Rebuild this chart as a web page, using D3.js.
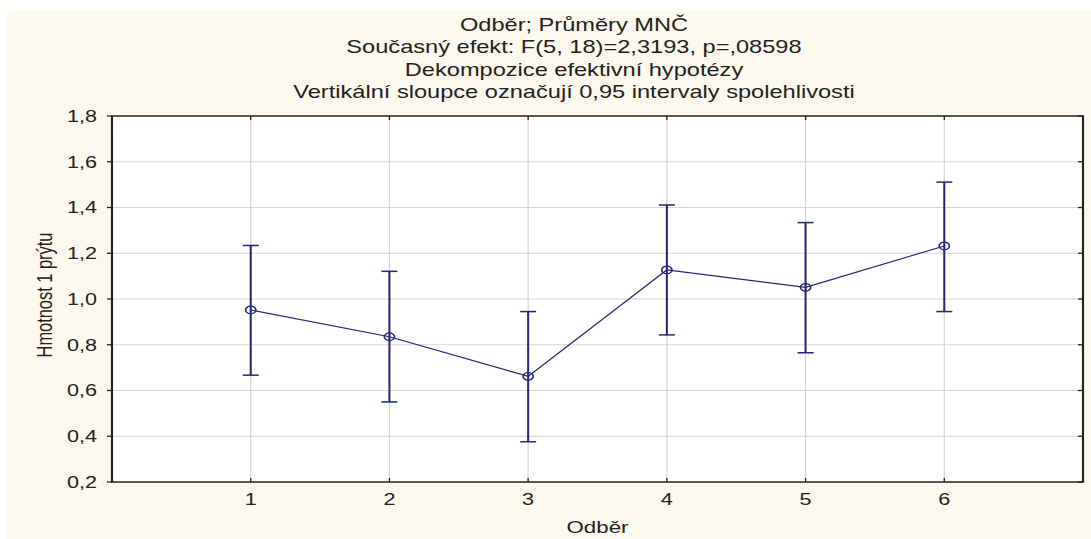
<!DOCTYPE html>
<html>
<head>
<meta charset="utf-8">
<script src="https://cdn.jsdelivr.net/npm/d3@7"></script>
<style>
  body { margin: 0; background: #fff; }
  svg { display: block; }
  text { font-family: "Liberation Sans", Arial, sans-serif; fill: #222; }
</style>
</head>
<body>
<div id="chart"></div>
<script>
// data
var categories = [1, 2, 3, 4, 5, 6]
var means = [0.952, 0.835, 0.662, 1.127, 1.051, 1.232]
var lower = [0.667, 0.550, 0.376, 0.843, 0.765, 0.945]
var upper = [1.234, 1.121, 0.945, 1.411, 1.334, 1.511]
var yTicks = [0.2, 0.4, 0.6, 0.8, 1.0, 1.2, 1.4, 1.6, 1.8]
var titleLines = [
  "Odběr; Průměry MNČ",
  "Současný efekt: F(5, 18)=2,3193, p=,08598",
  "Dekompozice efektivní hypotézy",
  "Vertikální sloupce označují 0,95 intervaly spolehlivosti"
]
var xTitle = "Odběr"
var yTitle = "Hmotnost 1 prýtu"

// the whole picture is stretched sideways, so draw narrow and scale
var SX = 1.35
var dims = { width: 1091, height: 539 }
var u = function (px) { return px / SX }

var plot = { left: u(112), right: u(1083), top: 116, bottom: 482 }

var x = d3.scaleLinear().domain([0, 7]).range([plot.left, plot.right])
var y = d3.scaleLinear().domain([0.2, 1.8]).range([plot.bottom, plot.top])

var comma = function (v) { return d3.format(".1f")(v).replace(".", ",") }

var svg = d3.select("#chart").append("svg")
  .attr("width", dims.width)
  .attr("height", dims.height)

var g = svg.append("g").attr("transform", `scale(${SX},1)`)

g.append("rect")
  .attr("x", u(7)).attr("y", 11)
  .attr("width", u(dims.width - 7)).attr("height", dims.height - 11)
  .attr("fill", "#fcf8ed")

g.append("rect")
  .attr("x", plot.left).attr("y", plot.top)
  .attr("width", plot.right - plot.left).attr("height", plot.bottom - plot.top)
  .attr("fill", "#fff")

// grid
g.append("g")
  .selectAll("line")
  .data(yTicks.slice(1, -1))
  .join("line")
  .attr("x1", plot.left).attr("x2", plot.right)
  .attr("y1", d => y(d)).attr("y2", d => y(d))
  .attr("stroke", "#d6d6d6").attr("stroke-width", 1.2)

g.append("g")
  .selectAll("line")
  .data(categories)
  .join("line")
  .attr("x1", d => x(d)).attr("x2", d => x(d))
  .attr("y1", plot.top).attr("y2", plot.bottom)
  .attr("stroke", "#d6d6d6").attr("stroke-width", 1.2 / SX)

// ticks: left outward, others inward
var tk = g.append("g").attr("stroke", "#222").attr("stroke-width", 1.3)
tk.selectAll(".tl").data(yTicks).join("line")
  .attr("x1", plot.left - u(5)).attr("x2", plot.left)
  .attr("y1", d => y(d)).attr("y2", d => y(d))
tk.selectAll(".tr").data(yTicks).join("line")
  .attr("x1", plot.right - u(5)).attr("x2", plot.right)
  .attr("y1", d => y(d)).attr("y2", d => y(d))
tk.selectAll(".tb").data(categories).join("line")
  .attr("x1", d => x(d)).attr("x2", d => x(d))
  .attr("y1", plot.bottom - 4).attr("y2", plot.bottom)
  .attr("stroke-width", 1.3 / SX)
tk.selectAll(".tt").data(categories).join("line")
  .attr("x1", d => x(d)).attr("x2", d => x(d))
  .attr("y1", plot.top).attr("y2", plot.top + 4)
  .attr("stroke-width", 1.3 / SX)

// frame
g.append("path")
  .attr("d", `M${plot.left},${plot.top}H${plot.right}V${plot.bottom}H${plot.left}Z`)
  .attr("fill", "none").attr("stroke", "#222").attr("stroke-width", 1.6)

// tick labels
g.append("g")
  .selectAll("text")
  .data(yTicks)
  .join("text")
  .attr("x", u(97)).attr("y", d => y(d))
  .attr("dy", "0.36em")
  .attr("text-anchor", "end")
  .attr("font-size", 16)
  .text(d => comma(d))

g.append("g")
  .selectAll("text")
  .data(categories)
  .join("text")
  .attr("x", d => x(d)).attr("y", 505)
  .attr("text-anchor", "middle")
  .attr("font-size", 16)
  .text(d => d)

// titles
g.append("g")
  .selectAll("text")
  .data(titleLines)
  .join("text")
  .attr("x", u(574)).attr("y", (d, i) => 31 + i * 22.4)
  .attr("text-anchor", "middle")
  .attr("font-size", 17.5)
  .text(d => d)

g.append("text")
  .attr("x", (plot.left + plot.right) / 2).attr("y", 533)
  .attr("text-anchor", "middle")
  .attr("font-size", 16.5)
  .text(xTitle)

g.append("text")
  .attr("transform", `translate(${u(52)},${(plot.top + plot.bottom) / 2 - 4}) rotate(-90)`)
  .attr("text-anchor", "middle")
  .attr("font-size", 16.4)
  .text(yTitle)

// series
var pts = categories.map((c, i) => ({ c: c, m: means[i], lo: lower[i], hi: upper[i] }))
var ink = "#25257c"

g.append("path")
  .datum(pts)
  .attr("d", d3.line().x(d => x(d.c)).y(d => y(d.m)))
  .attr("fill", "none").attr("stroke", ink).attr("stroke-width", 1.1)

var bars = g.append("g").attr("stroke", ink)
bars.selectAll(".v").data(pts).join("line")
  .attr("x1", d => x(d.c)).attr("x2", d => x(d.c))
  .attr("y1", d => y(d.lo)).attr("y2", d => y(d.hi))
  .attr("stroke-width", 1.5)
bars.selectAll(".hi").data(pts).join("line")
  .attr("x1", d => x(d.c) - u(8)).attr("x2", d => x(d.c) + u(8))
  .attr("y1", d => y(d.hi)).attr("y2", d => y(d.hi))
  .attr("stroke-width", 1.5)
bars.selectAll(".lo").data(pts).join("line")
  .attr("x1", d => x(d.c) - u(8)).attr("x2", d => x(d.c) + u(8))
  .attr("y1", d => y(d.lo)).attr("y2", d => y(d.lo))
  .attr("stroke-width", 1.5)

g.append("g")
  .selectAll("circle")
  .data(pts)
  .join("circle")
  .attr("cx", d => x(d.c)).attr("cy", d => y(d.m))
  .attr("r", 3.8)
  .attr("fill", "none").attr("stroke", ink).attr("stroke-width", 1.2)
</script>
</body>
</html>
